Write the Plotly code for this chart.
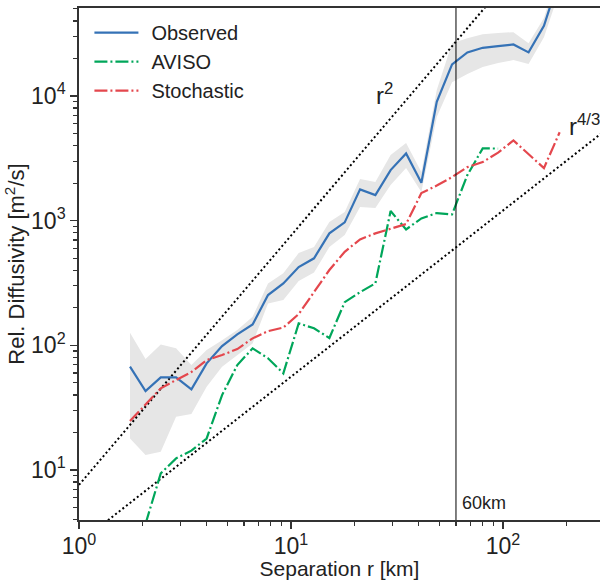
import plotly.graph_objects as go

# Separation bins [km]
sep = [1.74, 2.06, 2.43, 2.87, 3.39, 4.00, 4.73, 5.58, 6.59, 7.79, 9.20, 10.87,
       12.84, 15.17, 17.92, 21.17, 25.0, 29.5, 34.9, 41.2, 48.7, 57.5, 67.9,
       80.2, 94.8, 112.0, 132.0, 156.0, 185.0]

observed = [67.4, 43.0, 55.4, 55.4, 44.4, 71.7, 98.7, 122.5, 147, 253, 314, 425,
            499, 791, 969, 1782, 1604, 2546, 3466, 2014, 8988, 17920, 22380,
            24370, 25120, 25930, 22380, 36560, 90000]
obs_upper = [126, 77.6, 101.8, 94.6, 69.5, 91.7, 110, 132.6, 169.5, 314, 378, 550,
             614, 975, 1172, 2157, 2040, 3357, 4190, 2453, 11150, 26550, 29130,
             31350, 31950, 32540, 26550, 42170, 110000]
obs_lower = [17.9, 13.2, 14.0, 26.8, 28.1, 46.6, 67.4, 83.6, 103.7, 217, 231, 328,
             384, 614, 767, 1285, 1262, 1929, 2642, 1695, 6776, 12920, 14990,
             17060, 18360, 19410, 18030, 29660, 70000]

aviso_sep = [2.06, 2.43, 2.87, 3.39, 4.00, 4.73, 5.58, 6.59, 7.79, 9.20, 10.87,
             12.84, 15.17, 17.92, 21.17, 25.0, 29.5, 34.9, 41.2, 48.7, 57.5,
             67.9, 80.2, 94.8]
aviso = [3.7, 9.4, 12.4, 14.3, 17.9, 39.9, 69.5, 94.6, 78.7, 59.6, 150, 137,
         114.5, 222, 267, 314, 1194, 851, 1043, 1151, 1123, 2321, 3800, 3790]

stochastic = [24.7, 33.8, 45.2, 52.7, 61.1, 76.2, 83.6, 93.4, 113.8, 130, 139, 178,
              267, 402, 563, 708, 791, 867, 939, 1664, 1913, 2238, 2690, 2951,
              3516, 4406, 3420, 2642, 5117]

# Reference power laws
guide_x = [1.0, 400.0]
r2_coef, r2_pow = 7.6, 2.0
r43_coef, r43_pow = 2.6, 4.0 / 3.0
cutoff_km = 60

# Axis ticks
x_major = [1, 10, 100]
x_major_text = ["10<sup>0</sup>", "10<sup>1</sup>", "10<sup>2</sup>"]
y_major = [10, 100, 1000, 10000]
y_major_text = ["10<sup>1</sup>", "10<sup>2</sup>", "10<sup>3</sup>", "10<sup>4</sup>"]
x_minor = [m * d for d in (1, 10, 100) for m in range(2, 10)]
y_minor = [m * d for d in (1, 10, 100, 1000, 10000) for m in range(2, 10)]

BLUE = "#3572b6"
GREEN = "#00a65a"
RED = "#e4474d"
FONT = "Liberation Sans, Arial, sans-serif"
DASHDOT = "13px,3px,2px,3px"
DOTS = "2px,2.6px"
PAD = "\u2009\u2009"

fig = go.Figure()

# uncertainty band
fig.add_trace(go.Scatter(x=sep, y=obs_upper, mode="lines", line=dict(width=0),
                         showlegend=False, hoverinfo="skip"))
fig.add_trace(go.Scatter(x=sep, y=obs_lower, mode="lines", line=dict(width=0),
                         fill="tonexty", fillcolor="#e6e6e6",
                         showlegend=False, hoverinfo="skip"))

# guides
fig.add_trace(go.Scatter(x=guide_x, y=[r2_coef * x ** r2_pow for x in guide_x],
                         mode="lines", line=dict(color="black", width=2, dash=DOTS),
                         showlegend=False))
fig.add_trace(go.Scatter(x=guide_x, y=[r43_coef * x ** r43_pow for x in guide_x],
                         mode="lines", line=dict(color="black", width=2, dash=DOTS),
                         showlegend=False))

fig.add_trace(go.Scatter(x=sep, y=observed, mode="lines", name=PAD + "Observed",
                         line=dict(color=BLUE, width=2.2), legendgroup="a"))
fig.add_trace(go.Scatter(x=aviso_sep, y=aviso, mode="lines", name=PAD + "AVISO",
                         line=dict(color=GREEN, width=2.2, dash=DASHDOT), legendgroup="b"))
fig.add_trace(go.Scatter(x=sep, y=stochastic, mode="lines", name=PAD + "Stochastic",
                         line=dict(color=RED, width=2.2, dash=DASHDOT), legendgroup="c"))

fig.add_shape(type="line", xref="x", yref="paper", x0=cutoff_km, x1=cutoff_km,
              y0=0, y1=1, line=dict(color="black", width=1))

fig.add_annotation(x=1.443, y=4.02, text="r<sup>2</sup>", showarrow=False,
                   font=dict(size=24, color="#222"), xanchor="center", yanchor="middle")
fig.add_annotation(x=2.302, y=3.767, text="r<sup>4/3</sup>", showarrow=False,
                   font=dict(size=24, color="#222"), xanchor="left", yanchor="middle")
fig.add_annotation(x=1.797, y=0.735, text="60km", showarrow=False,
                   font=dict(size=18, color="#222"), xanchor="left", yanchor="middle")

axis_common = dict(
    type="log", showgrid=False, zeroline=False,
    showline=True, linecolor="#333", linewidth=1.8,
    ticks="outside", ticklen=7, tickwidth=1.5, tickcolor="#333",
    tickfont=dict(size=23, color="#222", family=FONT),
)

fig.update_xaxes(
    **axis_common, automargin=False, range=[0, 2.4575], mirror=True,
    ticklabelstandoff=-2,
    tickmode="array", tickvals=x_major, ticktext=x_major_text,
    minor=dict(tickmode="array", tickvals=x_minor, ticks="outside", ticklen=4,
               tickwidth=1.2, tickcolor="#333"),
    title=dict(text="Separation r [km]", font=dict(size=21, color="#222", family=FONT),
               standoff=2),
)
fig.update_yaxes(
    **axis_common, automargin=True, range=[0.599, 4.706],
    tickmode="array", tickvals=y_major, ticktext=y_major_text,
    minor=dict(tickmode="array", tickvals=y_minor, ticks="outside", ticklen=4,
               tickwidth=1.2, tickcolor="#333"),
    title=dict(text="Rel. Diffusivity [m<sup>2</sup>/s]",
               font=dict(size=22, color="#222", family=FONT), standoff=0),
)

fig.update_layout(
    width=600, height=580,
    margin=dict(l=79, r=0, t=8, b=60),
    plot_bgcolor="white", paper_bgcolor="white",
    font=dict(family=FONT, color="#222"),
    legend=dict(x=0.02, y=0.99, xanchor="left", yanchor="top",
                bgcolor="rgba(0,0,0,0)", font=dict(size=20, color="#222"),
                tracegroupgap=0, itemwidth=44),
)

fig.write_html("out.html",
               config={"displayModeBar": False, "staticPlot": True},
               post_script="document.body.style.margin='0px';"
                           "document.body.style.overflow='hidden';")
